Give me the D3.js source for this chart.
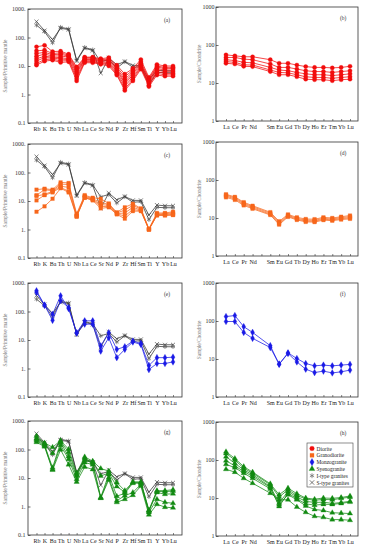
<!DOCTYPE html>
<html><head><meta charset="utf-8">
<script src="https://cdn.jsdelivr.net/npm/d3@7"></script>
<style>body{margin:0;background:#fff}svg{display:block}</style>
</head><body>
<svg id="c" width="369" height="550"></svg>
<script>
// ---------- data ----------
const pmElements = ["Rb","K","Ba","Th","U","Nb","La","Ce","Sr","Nd","P","Zr","Hf","Sm","Ti","Y","Yb","Lu"];
const reeSlots = ["La","Ce","Pr","Nd","Pm","Sm","Eu","Gd","Tb","Dy","Ho","Er","Tm","Yb","Lu"];
const reeElements = ["La","Ce","Pr","Nd","Sm","Eu","Gd","Tb","Dy","Ho","Er","Tm","Yb","Lu"];
const pmTicks = [1000,100,10,1,0.1];
const pmTickLabels = ["1000.","100.","10.","1.","0.1"];
const reeTicks = [1000,100,10,1];
const reeTickLabels = ["1000","100","10","1"];
const panelLabels = ["(a)","(b)","(c)","(d)","(e)","(f)","(g)","(h)"];
const rockTypes = ["Diorite","Granodiorite","Monzogranite","Syenogranite","I-type granites","S-type granites"];

// reference granites (primitive mantle normalised)
const iTypePM = [270,160,65,230,200,16,45,37,14,17,8.5,14,9,9.5,2.2,6.0,5.8,5.8];
const sTypePM = [360,175,85,210,190,15,42,35,5.6,19,11,14.5,10.5,10.5,3.2,7.2,6.8,6.8];

const dioritePM = [
  [47,53,32,33,26,9.3,20.5,20.5,18,19.6,10.7,5.2,8.2,16.8,4.0,11.3,10,10],
  [34,36,27.5,29,24,8.2,19.6,19.6,16.8,17.5,9.3,4.2,7.2,14,3.6,10,8.9,9],
  [27.5,30,25,26,22,7.2,18,18,16,16,8.2,3.4,6.3,12.3,3.2,9.3,8,8.2],
  [22,26,22.5,22.5,20.5,6.3,16.8,16.8,15,15,7.5,2.8,5.5,11.5,3.0,8.2,7.2,7.2],
  [18,22,20.5,19.6,18,5.5,16,16,14,13.3,6.8,2.4,4.8,10,2.6,7.2,6.3,6.3],
  [15,19.6,19,17.5,16.8,4.4,14.8,14.8,13,12.3,5.8,2.0,4.0,9.3,2.4,6.3,5.5,5.5],
  [12.3,16.8,17.5,15,15.5,3.6,14,14,12.3,11.3,5.2,1.6,3.4,8.6,2.1,5.5,4.9,4.9],
  [10.7,14.8,16,13.3,14,3.0,13,13,11.5,10,4.8,1.38,3.0,7.7,1.9,4.8,4.4,4.4]
];
const dioriteREE = [
  [55,52,49,49,41,33,33,29.7,27,25.7,25.7,25,25.7,27.5],
  [47,47,42.5,41,31.6,25.7,25.7,23.3,21,20,20,19,20,21],
  [41,39,35,34,25.7,22,21,19,17.4,16.5,16.5,15.7,16.5,17.4],
  [36.5,35,30,29.7,22,19,18.5,16.5,14.6,14,14,13.3,14,14.6],
  [33,31.6,27.5,27,20,16.5,16.5,14.6,12.6,12.2,12.2,11.5,12.2,12.6]
];
const granodioritePM = [
  [25,27,25,45,43,3.6,16,13,12,8.2,4.0,6.0,8,5.5,1.05,3.8,3.8,4.2],
  [16,25,23,39,38,3.2,15,12,9,7.5,3.8,4.8,7,5.2,1.05,3.5,3.6,3.8],
  [15,17,22,33,30,3.0,14,11.5,7.5,7.0,3.6,3.8,6,4.8,1.0,3.3,3.4,3.5],
  [10.5,16,20,30,22,2.9,13,11,6.5,6.3,3.5,3.0,5,4.6,1.0,3.2,3.2,3.3],
  [4.2,6.5,12,28,20,2.8,13,10.5,5.5,6.0,3.4,2.4,4.4,4.4,1.0,3.1,3.1,3.2]
];
const granodioriteREE = [
  [42,36,26,21,14.2,8.2,12.4,10.4,9.4,9.3,10.4,10,10.8,11.6],
  [40,34,24.5,19.8,13.4,7.6,11.8,9.8,8.8,8.7,9.8,9.4,10.2,10.8],
  [37.5,32,23,18.6,12.6,7.1,11.2,9.3,8.3,8.2,9.3,8.9,9.6,10.1],
  [35,30,21.5,17.5,12,6.7,10.7,8.9,7.9,7.8,8.8,8.5,9.1,9.5]
];
const monzoPM = [
  [535,167,80,355,127,18,47,47,6.2,18,4.7,5.8,9.2,7.6,1.28,2.4,2.4,2.5],
  [470,167,49,240,138,17.5,36,36,4.1,12,2.4,4.7,8.5,7.0,0.92,1.5,1.5,1.7]
];
const monzoREE = [
  [131,139,71,50,22.4,7.3,14.5,10.3,7.6,6.6,6.9,6.6,6.9,7.2],
  [97,97,50,35,20,7.3,14,8.4,5.4,4.4,4.8,4.3,4.6,5.1]
];
const syenoPM = [
  [296,170,120,205,102,15,55,39,21.5,17.5,6.9,3.6,7.3,7.3,0.75,3.6,3.6,3.9],
  [245,160,74,190,80,13,48,36,11.7,15,5,3.2,7.0,7.0,0.72,3.4,3.3,3.5],
  [228,145,23,174,57,11.7,42,34,2.1,13.4,2.3,2.9,6.6,6.5,0.68,3.1,2.7,2.8],
  [205,135,20,140,46,9,35,29.5,2.0,10.3,1.6,2.4,3.1,6.0,0.62,1.8,1.4,1.3],
  [180,126,19,98,29.5,7.3,24.5,20,1.96,8.6,1.4,1.8,2.5,5.2,0.51,1.2,0.95,0.9]
];
const syenoREE = [
  [165,110,67,48,23.7,12.2,18.2,13,10,9.3,10,9.8,10.3,11.3],
  [149,100,61,45,22.3,10.6,16.5,11.7,9.5,8.7,9.2,9.0,9.8,10.5],
  [122,82,55,41,20,7.4,14.9,10.6,8.2,7.6,7.8,7.2,7.6,8.2],
  [96,70,50,37,19,6.0,13.4,9.6,7.0,6.5,6.8,6.8,7.2,7.8],
  [77,63,45,33,17.4,6.7,12.2,9,6.2,5.0,4.7,4.1,4.0,3.9],
  [57,48,33,24.5,13.4,9,9,5.8,4.2,3.3,3.1,2.7,2.7,2.6]
];

// ---------- styles ----------
const styles = {
  Diorite:{color:"#f20c0c", sym:d3.symbolCircle, size:14, fill:true},
  Granodiorite:{color:"#f7671c", sym:d3.symbolSquare, size:13, fill:true},
  Monzogranite:{color:"#1a1ae6", sym:d3.symbolDiamond, size:13, fill:true},
  Syenogranite:{color:"#128a12", sym:d3.symbolTriangle, size:12, fill:true},
  "I-type granites":{color:"#666", line:"#333", sym:d3.symbolAsterisk, size:14, fill:false},
  "S-type granites":{color:"#444", line:"#333", sym:d3.symbolTimes, size:12, fill:false}
};

const svg = d3.select("#c");
const FONT = "Liberation Serif, Times New Roman, serif";

function panel(opts){
  const {x0,x1,y0,h,pm,series,label,legend} = opts;
  const g = svg.append("g");
  const domain = pm ? pmElements : reeSlots;
  const x = d3.scalePoint().domain(domain).range(pm ? [x0+8.5, x1-9] : [x0+10, x1-8]);
  const y = d3.scaleLog().domain(pm ? [0.1,1000] : [1,1000]).range([y0+h, y0]);
  const ticks = pm ? pmTicks : reeTicks;
  const tl = pm ? pmTickLabels : reeTickLabels;

  // frame
  g.append("rect").attr("x",x0).attr("y",y0).attr("width",x1-x0).attr("height",h)
    .attr("fill","none").attr("stroke","#333").attr("stroke-width",0.8);

  // y axis
  const ya = g.append("g").attr("transform",`translate(${x0},0)`)
    .call(d3.axisLeft(y).tickValues(ticks).tickSize(-2.5).tickPadding(pm?2.5:1.5).tickFormat((d,i)=>tl[i]));
  ya.select(".domain").remove();
  ya.selectAll("line").attr("stroke","#333").attr("stroke-width",0.7);
  ya.selectAll("text").attr("font-family",FONT).attr("font-size",6).attr("fill","#333");

  // x axis
  const xa = g.append("g").attr("transform",`translate(0,${y0+h})`)
    .call(d3.axisBottom(x).tickSize(-2).tickPadding(3.5).tickFormat(d=> d==="Pm" ? "" : d));
  xa.select(".domain").remove();
  xa.selectAll("line").attr("stroke","#333").attr("stroke-width",0.6);
  xa.selectAll("text").attr("font-family",FONT).attr("font-size",6).attr("fill","#222");

  // y title
  g.append("text").attr("transform",`translate(${pm? x0-21 : x0-15},${y0+h/2}) rotate(-90)`)
    .attr("text-anchor","middle").attr("font-family",FONT).attr("font-size",5.3)
    .attr("fill","#777").text(pm ? "Sample/Primitive mantle" : "Sample/Chondrite");

  // panel label
  g.append("text").attr("x",x1-18).attr("y",y0+13).attr("font-family",FONT)
    .attr("font-size",5.5).attr("fill","#333").text(label);

  const elems = pm ? pmElements : reeElements;
  const line = d3.line().x((d,i)=>x(elems[i])).y(d=>y(d));
  series.forEach(s=>{
    const st = styles[s.type];
    s.data.forEach(vals=>{
      g.append("path").attr("d",line(vals)).attr("fill","none")
        .attr("stroke", st.line || st.color).attr("stroke-width",0.75);
      const sym = d3.symbol().type(st.sym).size(st.size);
      g.selectAll(null).data(vals).enter().append("path")
        .attr("transform",(d,i)=>`translate(${x(elems[i])},${y(d)})`)
        .attr("d",sym)
        .attr("fill", st.fill ? st.color : "none")
        .attr("stroke", st.color).attr("stroke-width", st.fill?0.3:0.7);
    });
  });

  if(legend){
    const lx = x1-51, ly = y0+21;
    g.append("rect").attr("x",lx).attr("y",ly).attr("width",46).attr("height",44)
      .attr("fill","#fff").attr("stroke","#444").attr("stroke-width",0.6);
    rockTypes.forEach((t,i)=>{
      const st = styles[t];
      const yy = ly+5.5+i*6.8;
      g.append("path").attr("transform",`translate(${lx+5},${yy})`)
        .attr("d",d3.symbol().type(st.sym).size(st.size*1.2))
        .attr("fill", st.fill ? st.color : "none")
        .attr("stroke", st.color).attr("stroke-width", st.fill?0.3:0.7);
      g.append("text").attr("x",lx+9.5).attr("y",yy+2).attr("font-family",FONT)
        .attr("font-size",5.4).attr("fill","#222").text(t);
    });
  }
}

const leftTops = [9,144,283,421];
const rightTops = [7,142,283,422];
const refs = [{type:"I-type granites",data:[iTypePM]},{type:"S-type granites",data:[sTypePM]}];
const pmSets = [
  {type:"Diorite",data:dioritePM},
  {type:"Granodiorite",data:granodioritePM},
  {type:"Monzogranite",data:monzoPM},
  {type:"Syenogranite",data:syenoPM}
];
const reeSets = [
  {type:"Diorite",data:dioriteREE},
  {type:"Granodiorite",data:granodioriteREE},
  {type:"Monzogranite",data:monzoREE},
  {type:"Syenogranite",data:syenoREE}
];
for(let r=0;r<4;r++){
  panel({x0:28,x1:182,y0:leftTops[r],h:114,pm:true,series:[...refs,pmSets[r]],label:panelLabels[2*r]});
  panel({x0:216,x1:358,y0:rightTops[r],h:114,pm:false,series:[reeSets[r]],label:panelLabels[2*r+1],legend:r===3});
}
</script>
</body></html>
